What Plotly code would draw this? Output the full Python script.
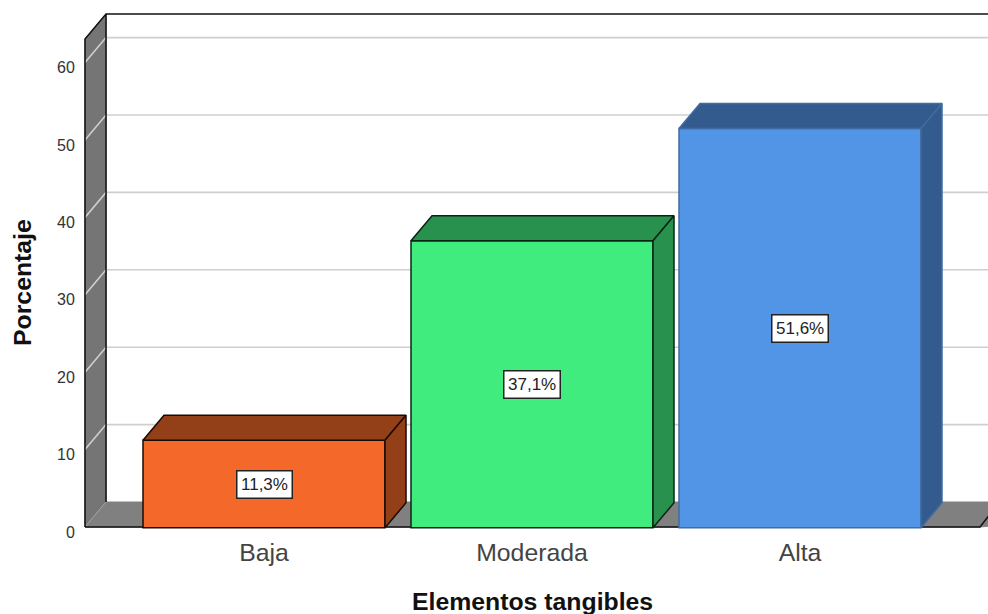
import plotly.graph_objects as go

categories = ["Baja", "Moderada", "Alta"]
percent = [11.3, 37.1, 51.6]
value_labels = ["11,3%", "37,1%", "51,6%"]
y_ticks = [0, 10, 20, 30, 40, 50, 60]
front_colors = ["#F4692A", "#41EC7F", "#5294E5"]
shade_colors = ["#934019", "#28914E", "#345B8E"]
edge_colors = ["#1A0A04", "#0B2414", "#3F6CA3"]

PX_X = 268.0
PX_Y = 7.74
DX = 21 / PX_X
DY = 25 / PX_Y
BAR_W = 242 / PX_X
X_LO = (80 - 264) / PX_X
X_HI = (988 - 264) / PX_X
Y_LO = -3 / PX_Y
Y_HI = (527 - 10) / PX_Y
WALL_X = (85 - 264) / PX_X
FLOOR_END = (980 - 264) / PX_X
WALL_TOP = 488 / PX_Y
BAR_SHIFT = 0.8 / PX_Y

fig = go.Figure()


def poly(xs, ys, fill, line=None, width=1.5, ax=("x", "y")):
    fig.add_trace(go.Scatter(
        x=xs, y=ys, mode="lines", fill="toself" if fill else None, fillcolor=fill,
        line=dict(color=line or "rgba(0,0,0,0)", width=width), xaxis=ax[0], yaxis=ax[1],
        hoverinfo="skip", showlegend=False))


# floor and left wall
poly([WALL_X, WALL_X + DX, X_HI + 1, FLOOR_END, WALL_X],
     [0, DY, DY, 0, 0], "#808080", "rgba(128,128,128,1)", 1)
poly([WALL_X, WALL_X + DX, WALL_X + DX, WALL_X, WALL_X],
     [0, DY, WALL_TOP + DY, WALL_TOP, 0], "#757575", "#757575", 1)
# gridlines on wall and back plane
for t in y_ticks:
    if t > 0:
        poly([WALL_X, WALL_X + DX, X_HI + 1], [t, t + DY, t + DY], None, "#CFCFCF", 1.6)
poly([WALL_X, WALL_X + DX], [0, DY], None, "#A8A8A8", 1)
# outlines
poly([WALL_X, WALL_X, WALL_X + DX, X_HI + 1], [0, WALL_TOP, WALL_TOP + DY, WALL_TOP + DY],
     None, "#111111", 1.5)
poly([WALL_X + DX, WALL_X + DX], [DY, WALL_TOP + DY], None, "#111111", 1.5)
poly([WALL_X, FLOOR_END, FLOOR_END + 0.04], [0, 0, 3.2 * 0.55], None, "#111111", 1.5)

# bars on overlay axes
over = ("x2", "y2")
fig.add_trace(go.Bar(
    x=list(range(len(categories))), y=percent, width=BAR_W,
    marker=dict(color=front_colors, line=dict(color=edge_colors, width=1.5)),
    xaxis="x2", yaxis="y2", hoverinfo="skip", showlegend=False))
for i, v in enumerate(percent):
    xl, xr = i - BAR_W / 2, i + BAR_W / 2
    poly([xl, xl + DX, xr + DX, xr, xl], [v, v + DY, v + DY, v, v],
         shade_colors[i], edge_colors[i], 1.5, over)
    poly([xr, xr + DX, xr + DX, xr, xr], [0, DY, v + DY, v, 0],
         shade_colors[i], edge_colors[i], 1.5, over)
    fig.add_annotation(x=i, y=v / 2, xref="x", yref="y", yshift=-1.5, text=value_labels[i],
                       showarrow=False,
                       font=dict(family="Liberation Sans", size=17, color="#222222"),
                       bgcolor="white", bordercolor="#222222", borderwidth=1.5, borderpad=3.5)

PLOT_W = 908
PLOT_H = 520
fig.add_annotation(text="<b>Porcentaje</b>", xref="paper", yref="paper", x=(22 - 80) / PLOT_W,
                   y=(530 - 283) / PLOT_H, showarrow=False, textangle=-90, xanchor="center",
                   yanchor="middle", font=dict(family="Liberation Sans", size=24.8, color="#111111"))
fig.add_annotation(text="<b>Elementos tangibles</b>", xref="paper", yref="paper",
                   x=(532 - 80) / PLOT_W, y=(530 - 601) / PLOT_H, showarrow=False, xanchor="center",
                   yanchor="middle", font=dict(family="Liberation Sans", size=24.8, color="#111111"))

fig.update_layout(
    width=988, height=614, margin=dict(l=80, r=0, t=10, b=84),
    paper_bgcolor="white", plot_bgcolor="white", showlegend=False,
    font=dict(family="Liberation Sans"),
    xaxis=dict(range=[X_LO, X_HI], tickmode="array", tickvals=list(range(len(categories))),
               ticktext=categories, showgrid=False, zeroline=False, showline=False,
               ticks="outside", ticklen=0, tickcolor="rgba(0,0,0,0)",
               tickfont=dict(size=24.8, color="#444444")),
    yaxis=dict(range=[Y_LO, Y_HI], tickmode="array", tickvals=y_ticks,
               showgrid=False, zeroline=False, showline=False,
               ticks="outside", ticklen=1, tickcolor="rgba(0,0,0,0)", ticklabelshift=5,
               tickfont=dict(size=16, color="#333333")),
    xaxis2=dict(range=[X_LO, X_HI], overlaying="x", visible=False),
    yaxis2=dict(range=[Y_LO + BAR_SHIFT, Y_HI + BAR_SHIFT], overlaying="y", visible=False),
)

fig.write_html("out.html", config=dict(displayModeBar=False),
               post_script="document.body.style.margin='0';document.body.style.overflow='hidden';")
